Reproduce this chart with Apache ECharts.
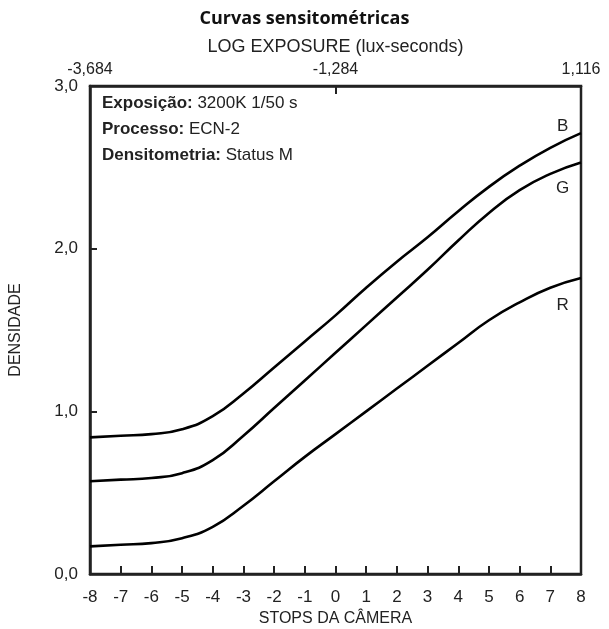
<!DOCTYPE html>
<html>
<head>
<meta charset="utf-8">
<script src="https://cdn.jsdelivr.net/npm/echarts@6/dist/echarts.min.js"></script>
<style>
  html, body { margin: 0; padding: 0; background: #fff; }
  #main { width: 609px; height: 629px; }
</style>
</head>
<body>
<div id="main"></div>
<script>
// stops da câmera (eixo x)
let stops = [-8, -7, -6, -5, -4, -3, -2, -1, 0, 1, 2, 3, 4, 5, 6, 7, 8];
// densidades
let curveB = [0.84, 0.85, 0.86, 0.89, 0.97, 1.11, 1.27, 1.43, 1.59, 1.76, 1.92, 2.07, 2.23, 2.38, 2.51, 2.62, 2.71];
let curveG = [0.57, 0.58, 0.59, 0.62, 0.70, 0.85, 1.02, 1.19, 1.36, 1.53, 1.70, 1.87, 2.05, 2.22, 2.36, 2.46, 2.53];
let curveR = [0.17, 0.18, 0.19, 0.22, 0.29, 0.42, 0.57, 0.72, 0.86, 1.00, 1.14, 1.28, 1.42, 1.56, 1.67, 1.76, 1.82];
// etiquetas do eixo superior (log exposure)
let logExposure = ['-3,684', '-1,284', '1,116'];
// onde ficam as letras B, G, R
let curveLabels = [
    {name: 'B', at: [7.4, 2.75]},
    {name: 'G', at: [7.4, 2.37]},
    {name: 'R', at: [7.4, 1.65]}
];

let font = 'Liberation Sans';

function toPairs(ys) {
    return stops.map((x, i) => [x, ys[i]]);
}

function makeSeries(name, ys) {
    let lbl = curveLabels.find(c => c.name === name);
    return {
        name: name,
        type: 'line',
        smooth: 0.5,
        symbol: 'none',
        data: toPairs(ys),
        lineStyle: {color: '#000', width: 2.6},
        markPoint: {
            symbol: 'circle',
            symbolSize: 0,
            data: [{coord: lbl.at, value: name}],
            label: {show: true, formatter: name, color: '#222', fontFamily: font, fontSize: 17}
        }
    };
}

let chart = echarts.init(document.getElementById('main'));
chart.setOption({
    animation: false,
    title: {
        text: 'Curvas sensitométricas',
        left: 'center',
        top: 5,
        textStyle: {fontFamily: 'Open Sans', fontWeight: 'bold', fontSize: 18, color: '#111'}
    },
    grid: {
        left: 90, right: 28, top: 86, bottom: 55,
        outerBoundsMode: 'none', containLabel: false,
        show: true, borderColor: '#222', borderWidth: 2.5
    },
    xAxis: [
        {
            type: 'value', min: -8, max: 8, interval: 1, position: 'bottom',
            name: 'STOPS DA CÂMERA', nameLocation: 'middle', nameGap: 29,
            nameTextStyle: {fontFamily: font, fontSize: 16, color: '#222'},
            axisLine: {onZero: false, lineStyle: {color: '#222', width: 2.5}},
            axisTick: {inside: true, length: 8, lineStyle: {color: '#222', width: 2}},
            axisLabel: {fontFamily: font, fontSize: 17, color: '#222', margin: 15},
            splitLine: {show: false}
        },
        {
            type: 'value', min: -8, max: 8, interval: 8, position: 'top',
            name: 'LOG EXPOSURE (lux-seconds)', nameLocation: 'middle', nameGap: 30,
            nameTextStyle: {fontFamily: font, fontSize: 18, color: '#222'},
            axisLine: {onZero: false, lineStyle: {color: '#222', width: 2.5}},
            axisTick: {inside: true, length: 8, lineStyle: {color: '#222', width: 2}},
            axisLabel: {
                fontFamily: font, fontSize: 16, color: '#222', margin: 8,
                formatter: v => logExposure[(v + 8) / 8]
            },
            splitLine: {show: false}
        }
    ],
    yAxis: {
        type: 'value', min: 0, max: 3, interval: 1,
        name: 'DENSIDADE', nameLocation: 'middle', nameGap: 66,
        nameTextStyle: {fontFamily: font, fontSize: 16, color: '#222'},
        axisLine: {onZero: false, lineStyle: {color: '#222', width: 2.5}},
        axisTick: {inside: true, length: 7, lineStyle: {color: '#222', width: 2}},
        axisLabel: {
            fontFamily: font, fontSize: 17, color: '#222', margin: 12,
            formatter: v => v.toFixed(1).replace('.', ',')
        },
        splitLine: {show: false}
    },
    graphic: [
        {
            type: 'text', left: 102, top: 95,
            style: {
                rich: {
                    b: {fontFamily: font, fontWeight: 'bold', fontSize: 17, fill: '#222', lineHeight: 26},
                    n: {fontFamily: font, fontSize: 17, fill: '#222', lineHeight: 26}
                },
                text: '{b|Exposição:}{n| 3200K 1/50 s}\n{b|Processo:}{n| ECN-2}\n{b|Densitometria:}{n| Status M}'
            }
        }
    ],
    series: [
        makeSeries('B', curveB),
        makeSeries('G', curveG),
        makeSeries('R', curveR)
    ]
});
</script>
</body>
</html>
